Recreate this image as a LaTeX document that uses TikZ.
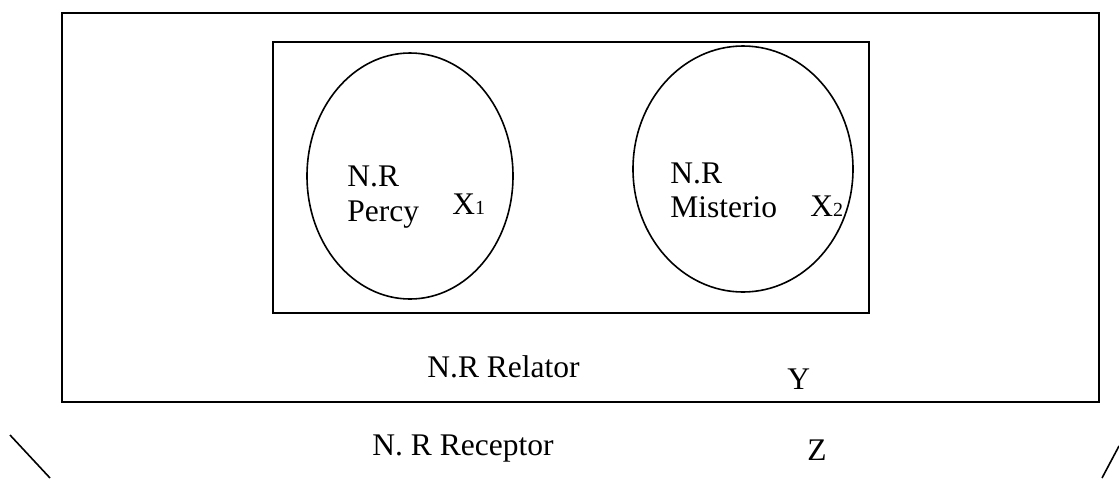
\documentclass[tikz,border=0pt]{standalone}
\usepackage{fontspec}
\setmainfont{Liberation Serif}
\usetikzlibrary{shapes.geometric}
\begin{document}
\begin{tikzpicture}[x=0.5pt,y=-0.5pt,
  frame/.style={draw=black,line width=1pt},
  blob/.style={draw=black,line width=0.8pt,ellipse,inner sep=0pt},
  lbl/.style={anchor=base west,inner sep=0pt,font=\fontsize{15.75}{18}\selectfont},
  edge/.style={draw=black,line width=0.8pt}]
\useasboundingbox (0,0) rectangle (1119,478);

% receiver frame and relator box
\draw[frame] (62,13) rectangle (1099,402);
\draw[frame] (273,42) rectangle (869,313);

% the two source sets
\node[blob,minimum width=103pt,minimum height=123pt] (percy) at (410,176) {};
\node[blob,minimum width=110pt,minimum height=123pt] (misterio) at (743,169) {};

% labels inside the sets
\node[lbl] (nr1) at (347,186) {N.R};
\node[lbl] (percyt) at (347,221) {Percy};
\node[lbl] (x1) at (452,214) {X{\fontsize{10}{12}\selectfont 1}};
\node[lbl] (nr2) at (670,183) {N.R};
\node[lbl] (misteriot) at (670,217) {Misterio};
\node[lbl] (x2) at (810,216) {X{\fontsize{10}{12}\selectfont 2}};

% relator and receptor labels
\node[lbl] (relator) at (427,377) {N.R Relator};
\node[lbl] (y) at (787,389) {Y};
\node[lbl] (receptor) at (372,455) {N. R Receptor};
\node[lbl] (z) at (807,460) {Z};

% outer strokes at the lower corners
\coordinate (la) at (10,435);
\coordinate (lb) at (50,478);
\coordinate (ra) at (1119,446);
\coordinate (rb) at (1102,478);
\draw[edge] (la) -- (lb);
\draw[edge] (ra) -- (rb);
\end{tikzpicture}
\end{document}
